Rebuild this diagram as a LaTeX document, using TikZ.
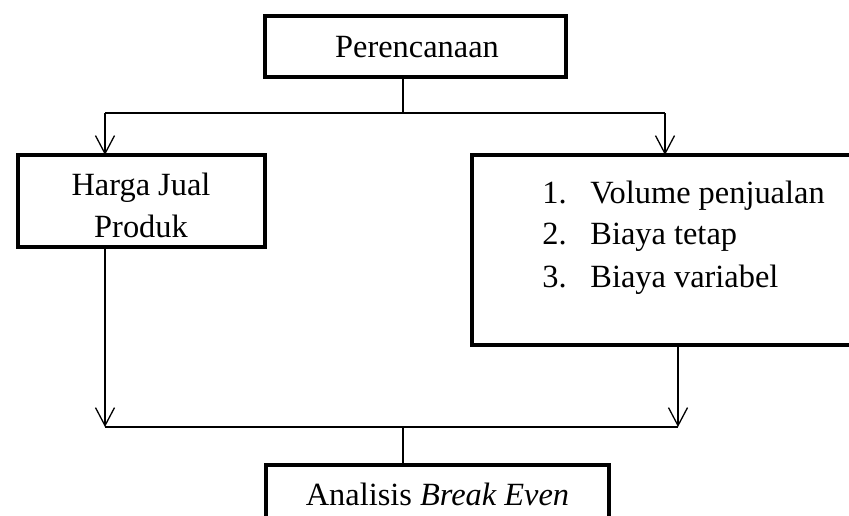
\documentclass[tikz,border=0pt]{standalone}
\usepackage{fontspec}
\setmainfont{Liberation Serif}
\usetikzlibrary{arrows.meta}
\tikzset{
  box/.style={draw, line width=2.2pt, rectangle, inner sep=0pt, outer sep=0pt},
  txt/.style={anchor=base, inner sep=0pt, font=\fontsize{16.2}{21}\selectfont},
  ltxt/.style={anchor=base west, inner sep=0pt, font=\fontsize{16.2}{21}\selectfont},
  conn/.style={line width=0.65pt},
  arr/.style={conn, -{Straight Barb[length=9pt,width=9.5pt,line width=0.65pt]}}
}
\begin{document}
\begin{tikzpicture}[x=0.5pt,y=-0.5pt]
\useasboundingbox (0,0) rectangle (849,515);
% boxes
\node[box, minimum width=150.5pt, minimum height=30.5pt] (plan) at (415.5,46.5) {};
\node[box, minimum width=123.5pt, minimum height=46pt] (harga) at (141.5,201) {};
\node[box, minimum width=213pt, minimum height=95pt] (list) at (685,250) {};
\node[box, minimum width=171.5pt, minimum height=36pt] (bep) at (437.5,501) {};
% texts
\node[txt] (tplan) at (417,57) {Perencanaan};
\node[txt] (th1) at (141,195) {Harga Jual};
\node[txt] (th2) at (141,237) {Produk};
\node[ltxt] (n1) at (542,203) {1.};
\node[ltxt] (n2) at (542,244) {2.};
\node[ltxt] (n3) at (542,287) {3.};
\node[ltxt] (l1) at (590,203) {Volume penjualan};
\node[ltxt] (l2) at (590,244) {Biaya tetap};
\node[ltxt] (l3) at (590,287) {Biaya variabel};
\node[txt] (tbep) at (437.5,505) {Analisis \textit{Break Even}};
% junction coordinates
\coordinate (jtop) at (403,113);
\coordinate (tl) at (105,113);
\coordinate (tr) at (665,113);
\coordinate (bl) at (105,427);
\coordinate (br) at (678,427);
\coordinate (jbot) at (403,427);
% connectors
\draw[conn] (jtop |- plan.south) -- (jtop);
\draw[conn] (tl) -- (tr);
\draw[arr] (tl) -- (tl |- harga.north);
\draw[arr] (tr) -- (tr |- list.north);
\draw[arr] (bl |- harga.south) -- (bl);
\draw[arr] (br |- list.south) -- (br);
\draw[conn] (bl) -- (br);
\draw[conn] (jbot) -- (jbot |- bep.north);
\end{tikzpicture}
\end{document}
